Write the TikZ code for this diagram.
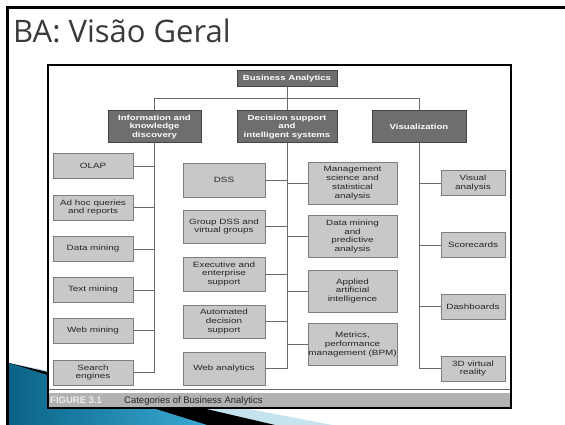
\documentclass[tikz,border=0pt]{standalone}
\usepackage{fontspec}
\newfontfamily\boxfont[FakeStretch=1.3]{Liberation Sans}
\newfontfamily\capfont{Liberation Sans}
\newfontfamily\titlefont{Open Sans}
\definecolor{dfill}{HTML}{6E6E6E}
\definecolor{dborder}{HTML}{454545}
\definecolor{lfill}{HTML}{C8C8C8}
\definecolor{lborder}{HTML}{7E7E7E}
\definecolor{wire}{HTML}{6A6A6A}
\definecolor{titlegray}{HTML}{3A3A3A}
\definecolor{capband}{HTML}{B2B2B2}
\definecolor{blueA}{HTML}{0A6386}
\definecolor{blueB}{HTML}{3AAAD4}
\definecolor{lightblue}{HTML}{C4E3EF}
\tikzset{
  dbox/.style={draw=dborder, fill=dfill, text=white, align=center, inner sep=0pt,
    line width=1pt, font=\boxfont\bfseries\fontsize{7.4}{8.4}\selectfont},
  lbox/.style={draw=lborder, fill=lfill, text=black!85, align=center, inner sep=0pt,
    line width=0.8pt, font=\boxfont\fontsize{7.6}{8.8}\selectfont},
  colL/.style={lbox, minimum width=80, minimum height=25},
  colM/.style={lbox, minimum width=82},
  colR/.style={lbox, minimum width=89, minimum height=42},
  colV/.style={lbox, minimum width=64, minimum height=25},
  wireline/.style={draw=wire, line width=0.8pt},
}
\begin{document}
\begin{tikzpicture}[x=1pt,y=-1pt]
\useasboundingbox (0,0) rectangle (565,425);
\fill[white] (0,0) rectangle (565,425);
% bottom-left decoration
\fill[lightblue] (9,363) -- (332,425) -- (9,425) -- cycle;
\fill[black] (9,363) -- (275,425) -- (9,425) -- cycle;
\shade[left color=blueA, right color=blueB] (9,363) -- (207,425) -- (9,425) -- cycle;
% title
\node[anchor=base west, inner sep=0pt, text=titlegray, font=\titlefont\fontsize{31}{36}\selectfont] (title) at (13,43) {BA: Visão Geral};
% figure frame
\fill[white] (48,65) rectangle (511,408);
\fill[capband] (48,392.5) rectangle (511,408);
\draw[wire, line width=1pt] (48,389.5) -- (511,389.5);
\draw[black, line width=1.5pt] (48,65) rectangle (511,408);
\node[anchor=base west, inner sep=0pt, text=white!92!black, font=\capfont\bfseries\fontsize{9.5}{11}\selectfont] (figlabel) at (50,403.5) {FIGURE 3.1};
\node[anchor=base west, inner sep=0pt, text=black!85, font=\capfont\fontsize{9.5}{11}\selectfont] (figcap) at (124,403.5) {Categories of Business Analytics};
% top level
\node[dbox, minimum width=100, minimum height=16] (ba) at (287,79) {Business Analytics};
\node[dbox, minimum width=93, minimum height=32] (info) at (154.5,127) {Information and\\knowledge\\discovery};
\node[dbox, minimum width=100, minimum height=32] (dsis) at (287,127) {Decision support\\and\\intelligent systems};
\node[dbox, minimum width=94, minimum height=32] (vis) at (419,127) {Visualization};
% left column
\node[colL] (olap) at (93,166) {OLAP};
\node[colL] (adhoc) at (93,207.5) {Ad hoc queries\\and reports};
\node[colL] (dm) at (93,249) {Data mining};
\node[colL] (tm) at (93,290) {Text mining};
\node[colL] (wm) at (93,330.5) {Web mining};
\node[colL] (se) at (93,372.5) {Search\\engines};
% middle left column
\node[colM, minimum height=34] (dss) at (224,180) {DSS};
\node[colM, minimum height=33] (gdss) at (224,226.5) {Group DSS and\\virtual groups};
\node[colM, minimum height=34] (exec) at (224,274) {Executive and\\enterprise\\support};
\node[colM, minimum height=33] (auto) at (224,321.5) {Automated\\decision\\support};
\node[colM, minimum height=33] (weba) at (224,368.5) {Web analytics};
% middle right column
\node[colR] (mgmt) at (352.5,183) {Management\\science and\\statistical\\analysis};
\node[colR] (dmp) at (352.5,236.5) {Data mining\\and\\predictive\\analysis};
\node[colR] (aai) at (352.5,291) {Applied\\artificial\\intelligence};
\node[colR] (metrics) at (352.5,344.5) {Metrics,\\performance\\management (BPM)};
% right column
\node[colV] (visa) at (473,183) {Visual\\analysis};
\node[colV] (score) at (473,245) {Scorecards};
\node[colV] (dash) at (473,306.5) {Dashboards};
\node[colV] (vr) at (473,368.5) {3D virtual\\reality};
% connectors top
\draw[wireline] (ba) -- (dsis);
\draw[wireline] (info.north) -- ++(0,-12) -| (vis.north);
% spines
\draw[wireline] (info.south) -- (info.south |- se.east);
\draw[wireline] (dsis.south) -- (dsis.south |- weba.east);
\draw[wireline] (vis.south) -- (vis.south |- vr.west);
% branches
\foreach \n in {olap,adhoc,dm,tm,wm,se} \draw[wireline] (\n.east) -- (\n.east -| info.south);
\foreach \n in {dss,gdss,exec,auto,weba} \draw[wireline] (\n.east) -- (\n.east -| dsis.south);
\foreach \n in {mgmt,dmp,aai,metrics} \draw[wireline] (\n.west) -- (\n.west -| dsis.south);
\foreach \n in {visa,score,dash,vr} \draw[wireline] (\n.west) -- (\n.west -| vis.south);
% slide border
\fill[black] (6,6) rectangle (565,9);
\fill[black] (6,6) rectangle (9,425);
\end{tikzpicture}
\end{document}
